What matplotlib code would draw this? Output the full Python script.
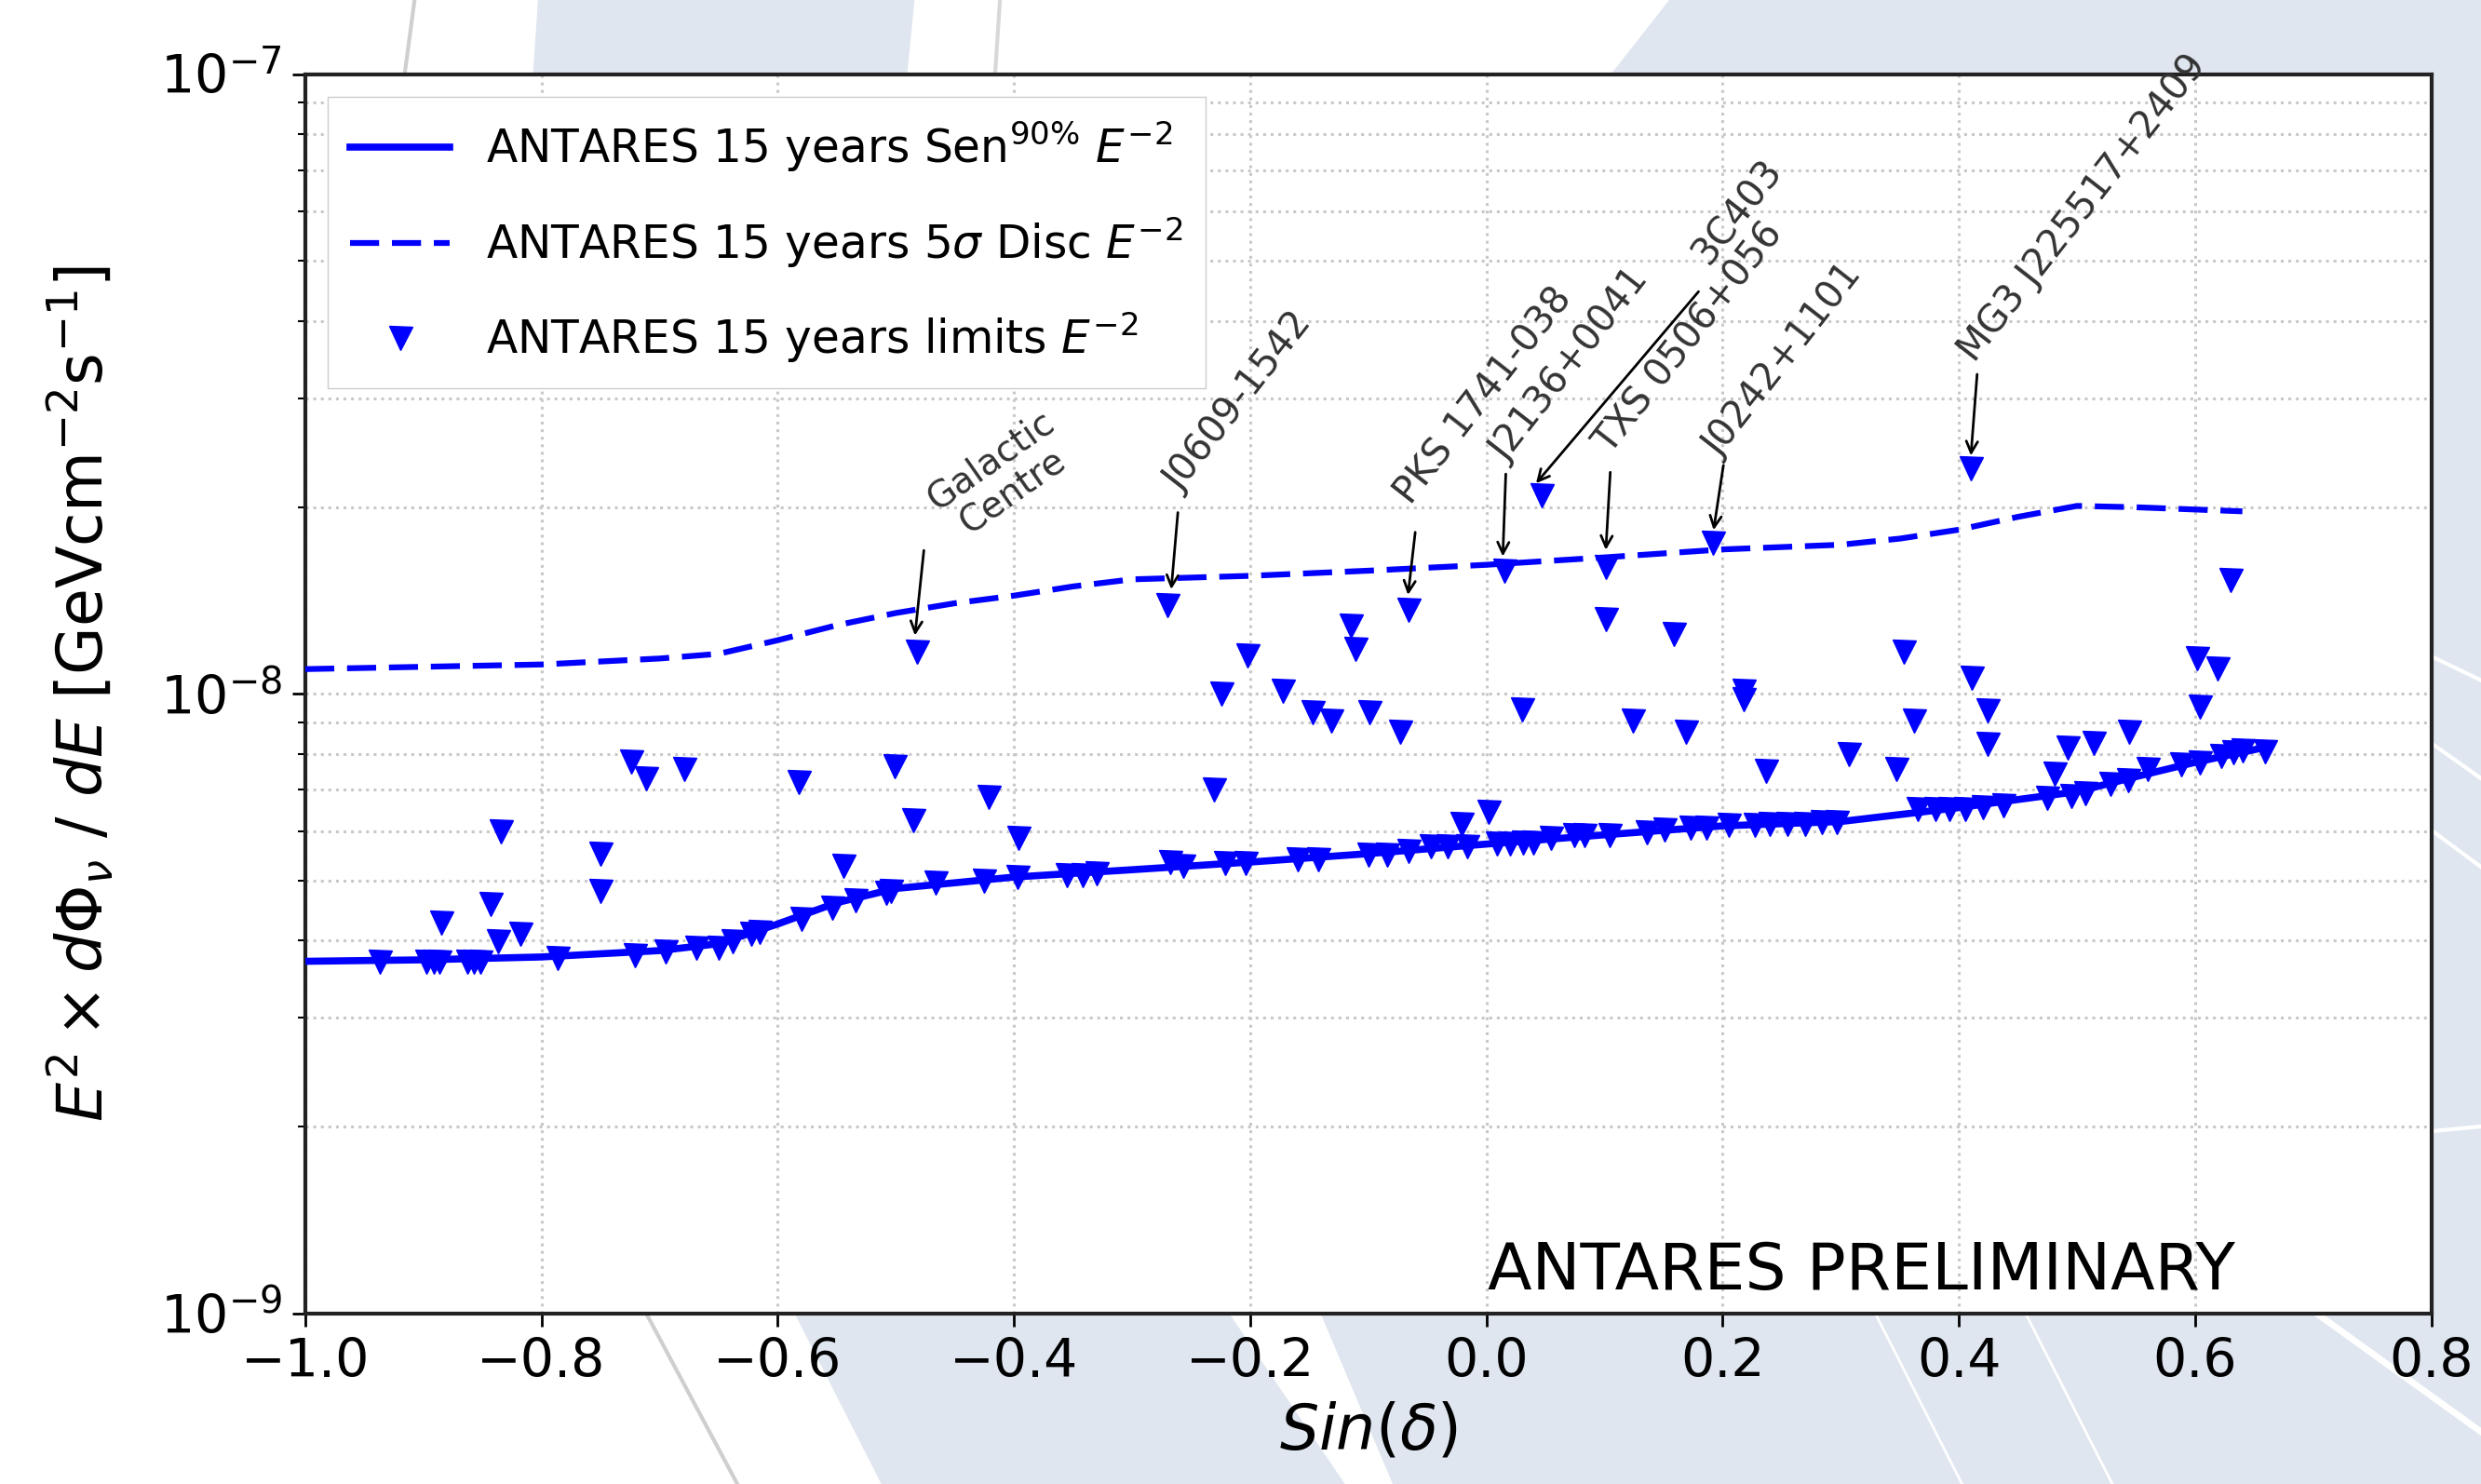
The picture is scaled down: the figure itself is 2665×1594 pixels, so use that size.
import numpy as np
import matplotlib
matplotlib.use('Agg')
import matplotlib.pyplot as plt
from matplotlib.ticker import NullFormatter
from matplotlib.patches import Polygon
from matplotlib.lines import Line2D

# sensitivity (90%) and 5 sigma discovery curves, flux in units of 1e-9
sens_sin = [-1.0, -0.9, -0.8, -0.7, -0.65, -0.6, -0.55, -0.5, -0.4, -0.3, -0.2, -0.1,
            0.0, 0.1, 0.2, 0.3, 0.4, 0.45, 0.5, 0.55, 0.6, 0.66]
sens_flux = [3.70, 3.72, 3.76, 3.85, 3.95, 4.25, 4.60, 4.85, 5.06, 5.20, 5.35, 5.52,
             5.72, 5.92, 6.12, 6.22, 6.55, 6.75, 6.95, 7.35, 7.75, 8.20]

disc_sin = [-1.0, -0.8, -0.7, -0.65, -0.6, -0.55, -0.5, -0.45, -0.4, -0.35, -0.3, -0.2,
            -0.1, 0.0, 0.1, 0.2, 0.3, 0.35, 0.4, 0.45, 0.5, 0.55, 0.64]
disc_flux = [10.96, 11.15, 11.4, 11.6, 12.2, 12.9, 13.5, 14.0, 14.4, 14.9, 15.3, 15.5,
             15.8, 16.15, 16.6, 17.1, 17.4, 17.8, 18.4, 19.3, 20.1, 20.0, 19.7]

# per-source upper limits (sin(dec), flux in 1e-9)
src_sin = [-0.937, -0.897, -0.891, -0.886, -0.863, -0.857, -0.852, -0.885, -0.843, -0.834,
           -0.837, -0.818, -0.786, -0.750, -0.750, -0.724, -0.711, -0.679, -0.721, -0.695,
           -0.669, -0.650, -0.638, -0.622, -0.615, -0.582, -0.580, -0.554, -0.544, -0.534,
           -0.508, -0.504, -0.501, -0.485, -0.482, -0.466, -0.425, -0.421, -0.397, -0.396,
           -0.355, -0.342, -0.330, -0.270, -0.268, -0.257, -0.231, -0.224, -0.221, -0.204,
           -0.202, -0.172, -0.160, -0.147, -0.142, -0.131, -0.115, -0.111, -0.099, -0.100,
           -0.084, -0.073, -0.066, -0.066, -0.047, -0.033, -0.021, -0.016, 0.002, 0.009,
           0.015, 0.020, 0.030, 0.031, 0.047, 0.040, 0.055, 0.074, 0.083, 0.101,
           0.101, 0.104, 0.124, 0.136, 0.151, 0.159, 0.169, 0.173, 0.186, 0.192,
           0.205, 0.218, 0.218, 0.227, 0.237, 0.240, 0.255, 0.270, 0.284, 0.297,
           0.307, 0.347, 0.353, 0.362, 0.365, 0.380, 0.392, 0.405, 0.411, 0.410,
           0.420, 0.424, 0.424, 0.438, 0.475, 0.481, 0.492, 0.495, 0.507, 0.514,
           0.528, 0.543, 0.544, 0.560, 0.588, 0.602, 0.604, 0.604, 0.619, 0.622,
           0.630, 0.632, 0.640, 0.659]
src_flux = [3.70, 3.70, 3.70, 3.70, 3.70, 3.70, 3.70, 4.27, 4.58, 6.00,
            3.98, 4.10, 3.75, 5.51, 4.81, 7.76, 7.31, 7.55, 3.79, 3.84,
            3.89, 3.89, 3.98, 4.10, 4.12, 7.21, 4.33, 4.52, 5.27, 4.64,
            4.78, 4.81, 7.63, 6.26, 11.7, 4.95, 5.00, 6.82, 5.06, 5.86,
            5.10, 5.10, 5.14, 13.9, 5.35, 5.28, 7.01, 10.0, 5.33, 5.33,
            11.54, 10.1, 5.40, 9.33, 5.40, 9.06, 12.9, 11.8, 9.33, 5.50,
            5.50, 8.67, 13.65, 5.58, 5.67, 5.67, 6.17, 5.67, 6.44, 5.73,
            15.8, 5.73, 9.44, 5.76, 20.9, 5.76, 5.86, 5.91, 5.91, 16.0,
            13.2, 5.91, 9.06, 5.97, 6.03, 12.5, 8.67, 6.09, 6.09, 17.5,
            6.14, 10.1, 9.8, 6.14, 7.52, 6.17, 6.17, 6.17, 6.20, 6.20,
            7.98, 7.55, 11.7, 9.06, 6.52, 6.52, 6.52, 6.52, 10.6, 23.1,
            6.55, 9.4, 8.3, 6.60, 6.80, 7.44, 8.2, 6.85, 6.90, 8.33,
            7.15, 7.25, 8.68, 7.57, 7.70, 11.4, 9.54, 7.75, 11.0, 7.95,
            15.26, 8.05, 8.10, 8.07]

# labelled sources: name, text anchor, arrow tail, arrow head (sin, flux 1e-9)
lab_names = ['J0609-1542', 'PKS 1741-038', 'J2136+0041', '3C403',
             'TXS 0506+056', 'J0242+1101', 'MG3 J225517+2409']
lab_text = [(-0.259, 21.0), (-0.064, 20.1), (0.017, 23.5), (0.188, 49.1),
            (0.105, 24.2), (0.197, 23.9), (0.413, 34.1)]
lab_tail = [(-0.261, 19.8), (-0.060, 18.4), (0.0165, 22.85), (0.181, 44.9),
            (0.105, 23.0), (0.201, 23.6), (0.4156, 33.1)]
lab_head = [(-0.267, 14.6), (-0.0666, 14.3), (0.0138, 16.5), (0.0406, 21.7),
            (0.101, 16.9), (0.192, 18.2), (0.410, 24.0)]
gc_text = (-0.410, 22.45)
gc_tail = (-0.476, 17.2)
gc_head = (-0.484, 12.3)

fig = plt.figure(figsize=(26.65, 15.94), dpi=100)

# light background swooshes (decoration around the axes)
bg = '#dfe6ef'
def fp(x, y):
    return (x / 1568.0, 1 - y / 938.0)
shapes = [
    [(340, 0), (578, 0), (572, 60), (336, 60)],
    [(1055, 0), (1568, 0), (1568, 60), (1008, 60)],
    [(1530, 0), (1568, 0), (1568, 938), (1530, 938)],
    [(497, 820), (770, 820), (850, 938), (557, 938)],
    [(830, 820), (1568, 820), (1568, 938), (880, 938)],
]
for s in shapes:
    fig.patches.append(Polygon([fp(*p) for p in s], closed=True, facecolor=bg,
                               edgecolor='none', transform=fig.transFigure, zorder=-10))
for (a, b), c, w in [(((262, 0), (254, 60)), '#cfcfcf', 3),
                     (((632, 0), (628, 60)), '#d8d8d8', 3),
                     (((403, 820), (466, 938)), '#cfcfcf', 3),
                     (((1180, 820), (1240, 938)), 'white', 2),
                     (((1275, 820), (1335, 938)), 'white', 2),
                     (((1450, 820), (1568, 905)), 'white', 5),
                     (((1537, 415), (1568, 430)), 'white', 3),
                     (((1537, 470), (1568, 492)), 'white', 3),
                     (((1537, 525), (1568, 548)), 'white', 3),
                     (((1537, 715), (1568, 712)), 'white', 3)]:
    (x0, y0), (x1, y1) = fp(*a), fp(*b)
    fig.lines.append(Line2D([x0, x1], [y0, y1], color=c, lw=w,
                            transform=fig.transFigure, zorder=-9))

ax = fig.add_axes([0.123, 0.115, 0.857, 0.835])
ax.set_facecolor('white')

ax.plot(sens_sin, np.array(sens_flux) * 1e-9, color='blue', lw=5.5,
        label=r'ANTARES 15 years Sen$^{90\%}$ $E^{-2}$', zorder=3)
ax.plot(disc_sin, np.array(disc_flux) * 1e-9, color='blue', lw=4.5, ls=(0, (5, 2.2)),
        label=r'ANTARES 15 years 5$\sigma$ Disc $E^{-2}$', zorder=3)
ax.plot(src_sin, np.array(src_flux) * 1e-9, 'v', color='blue', ms=18, ls='none',
        label=r'ANTARES 15 years limits $E^{-2}$', zorder=4)

for name, t, a, h in zip(lab_names, lab_text, lab_tail, lab_head):
    ax.annotate('', xy=(h[0], h[1] * 1e-9), xytext=(a[0], a[1] * 1e-9),
                arrowprops=dict(arrowstyle='->', color='black', lw=2, mutation_scale=22),
                zorder=5)
    ax.text(t[0], t[1] * 1e-9, name, rotation=52, rotation_mode='anchor',
            ha='left', va='baseline', fontsize=29, color='#333333', zorder=5)

ax.annotate('', xy=(gc_head[0], gc_head[1] * 1e-9), xytext=(gc_tail[0], gc_tail[1] * 1e-9),
            arrowprops=dict(arrowstyle='->', color='black', lw=2, mutation_scale=22), zorder=5)
ax.text(gc_text[0], gc_text[1] * 1e-9, 'Galactic\nCentre', rotation=35, rotation_mode='anchor',
        ha='center', va='center', multialignment='center', fontsize=28, color='#333333',
        linespacing=1.1, zorder=5)

ax.text(0.556, 0.019, 'ANTARES PRELIMINARY', transform=ax.transAxes, fontsize=50,
        ha='left', va='baseline')

ax.set_yscale('log')
ax.set_xlim(-1.0, 0.8)
ax.set_ylim(1e-9, 1e-7)
ax.set_xticks(np.arange(-1.0, 0.81, 0.2))
ax.yaxis.set_minor_formatter(NullFormatter())
ax.grid(True, which='both', ls=':', color='#c8c8c8', lw=2.2, zorder=0)
ax.set_axisbelow(True)

ax.tick_params(axis='both', which='major', labelsize=41, length=10, width=2, pad=8)
ax.tick_params(axis='y', which='minor', length=6, width=1.5)
for sp in ax.spines.values():
    sp.set_linewidth(3)
    sp.set_color('#222222')

ax.set_xlabel(r'$Sin(\delta)$', fontsize=48, labelpad=10)
ax.set_ylabel(r'$E^2 \times d\Phi_\nu\ /\ dE$ [GeVcm$^{-2}$s$^{-1}$]', fontsize=48, labelpad=34)

ax.legend(loc='upper left', fontsize=35, frameon=True, fancybox=False, edgecolor='#cccccc',
          framealpha=1, handlelength=2.2, labelspacing=0.9, borderpad=0.5,
          borderaxespad=0.5, handletextpad=0.8)

fig.savefig('out.png', dpi=100)
